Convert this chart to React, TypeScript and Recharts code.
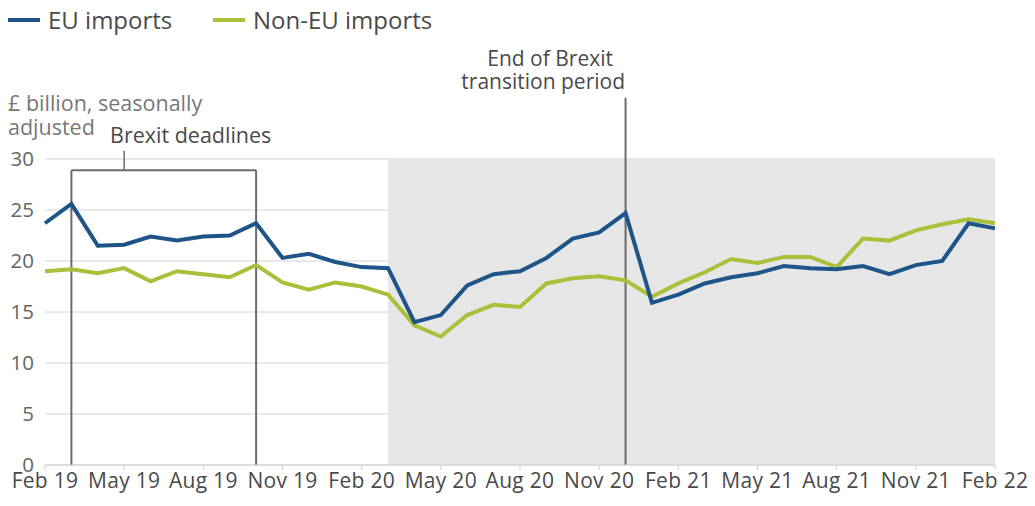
import { CartesianGrid, ComposedChart, Customized, Line, ReferenceArea, ReferenceLine, XAxis, YAxis } from 'recharts';

const months = [
	'Feb 19', 'Mar 19', 'Apr 19', 'May 19', 'Jun 19', 'Jul 19', 'Aug 19', 'Sep 19', 'Oct 19', 'Nov 19', 'Dec 19',
	'Jan 20', 'Feb 20', 'Mar 20', 'Apr 20', 'May 20', 'Jun 20', 'Jul 20', 'Aug 20', 'Sep 20', 'Oct 20', 'Nov 20', 'Dec 20',
	'Jan 21', 'Feb 21', 'Mar 21', 'Apr 21', 'May 21', 'Jun 21', 'Jul 21', 'Aug 21', 'Sep 21', 'Oct 21', 'Nov 21', 'Dec 21',
	'Jan 22', 'Feb 22',
];

// £ billion, seasonally adjusted
const euImports = [
	23.7, 25.6, 21.5, 21.6, 22.4, 22.0, 22.4, 22.5, 23.7, 20.3, 20.7, 19.9, 19.4, 19.3,
	14.0, 14.7, 17.6, 18.7, 19.0, 20.3, 22.2, 22.8, 24.7, 15.9,
	16.7, 17.8, 18.4, 18.8, 19.5, 19.3, 19.2, 19.5, 18.7, 19.6, 20.0, 23.7, 23.2,
];
const nonEuImports = [
	19.0, 19.2, 18.8, 19.3, 18.0, 19.0, 18.7, 18.4, 19.6, 17.9, 17.2, 17.9, 17.5, 16.7,
	13.7, 12.6, 14.7, 15.7, 15.5, 17.8, 18.3, 18.5, 18.1, 16.5,
	17.8, 18.9, 20.2, 19.8, 20.4, 20.4, 19.4, 22.2, 22.0, 23.0, 23.6, 24.1, 23.7,
];

const xTicks = [0, 3, 6, 9, 12, 15, 18, 21, 24, 27, 30, 33, 36];
const yTicks = [0, 5, 10, 15, 20, 25, 30];

// month indexes of the annotated events
const brexitDeadlines = [1, 8];
const transitionEnd = 22;
const pandemicStart = 13;

const data = months.map((month, i) => ({ i, month, eu: euImports[i], nonEu: nonEuImports[i] }));

const BLUE = '#1f5489';
const GREEN = '#a8c03a';
const TEXT = '#4a4a4a';
const FONT = '"Open Sans", sans-serif';

function Annotations() {
	return (
		<g fontFamily={FONT}>
			<line x1={8} x2={40} y1={20} y2={20} stroke={BLUE} strokeWidth={4} />
			<text x={48} y={29} fontSize={24} fill={TEXT}>EU imports</text>
			<line x1={213} x2={245} y1={20} y2={20} stroke={GREEN} strokeWidth={4} />
			<text x={253} y={29} fontSize={24} fill={TEXT}>Non-EU imports</text>

			<text x={8} y={111} fontSize={21.5} fill='#777'>£ billion, seasonally</text>
			<text x={8} y={135} fontSize={21.5} fill='#777'>adjusted</text>

			<text x={110} y={143} fontSize={21.5} fill={TEXT}>Brexit deadlines</text>

			<text x={613} y={66} fontSize={21} fill={TEXT} textAnchor='end'>End of Brexit</text>
			<text x={625} y={89} fontSize={21} fill={TEXT} textAnchor='end'>transition period</text>

			<text x={396} y={402} fontSize={20.5} fill={TEXT}>Coronavirus</text>
			<text x={396} y={424} fontSize={20.5} fill={TEXT}>(COVID-19)</text>
			<text x={396} y={447} fontSize={20.5} fill={TEXT}>pandemic</text>
		</g>
	);
}

export default function App() {
	return (
		<div style={{ position: 'absolute', left: 0, top: 0, background: '#fff' }}>
			<ComposedChart
				width={1035}
				height={506}
				data={data}
				margin={{ top: 159, right: 40, left: 0, bottom: 0 }}
				style={{ fontFamily: FONT }}
			>
				<ReferenceArea x1={pandemicStart} x2={36} y1={0} y2={30} fill='#e6e6e6' fillOpacity={1} stroke='none' />
				<CartesianGrid vertical={false} stroke='#d4d4d4' />
				<XAxis
					type='number'
					dataKey='i'
					domain={[0, 36]}
					ticks={xTicks}
					tickFormatter={(v: number) => months[v]}
					interval={0}
					height={41}
					tick={{ fill: TEXT, fontSize: 21, letterSpacing: 0.3 }}
					tickSize={5}
					tickMargin={3}
					axisLine={{ stroke: '#cfcfcf' }}
					tickLine={{ stroke: '#cfcfcf' }}
				/>
				<YAxis
					domain={[0, 30]}
					ticks={yTicks}
					width={45}
					axisLine={false}
					tickLine={false}
					tickSize={0}
					tickMargin={11}
					tick={{ fill: '#666', fontSize: 20.5 }}
				/>
				{brexitDeadlines.map((m) => (
					<ReferenceLine key={m} segment={[{ x: m, y: 0 }, { x: m, y: 28.9 }]} stroke='#6b6b6b' strokeWidth={2} ifOverflow='visible' />
				))}
				<ReferenceLine
					segment={[{ x: brexitDeadlines[0], y: 28.9 }, { x: brexitDeadlines[1], y: 28.9 }]}
					stroke='#6b6b6b'
					strokeWidth={2}
					ifOverflow='visible'
				/>
				<ReferenceLine segment={[{ x: 3, y: 28.9 }, { x: 3, y: 30.8 }]} stroke='#6b6b6b' strokeWidth={1.5} ifOverflow='visible' />
				<ReferenceLine segment={[{ x: transitionEnd, y: 0 }, { x: transitionEnd, y: 36 }]} stroke='#6b6b6b' strokeWidth={2} ifOverflow='visible' />
				<Line dataKey='nonEu' stroke={GREEN} strokeWidth={4} dot={false} isAnimationActive={false} />
				<Line dataKey='eu' stroke={BLUE} strokeWidth={4} dot={false} isAnimationActive={false} />
				<Customized component={Annotations} />
			</ComposedChart>
		</div>
	);
}
